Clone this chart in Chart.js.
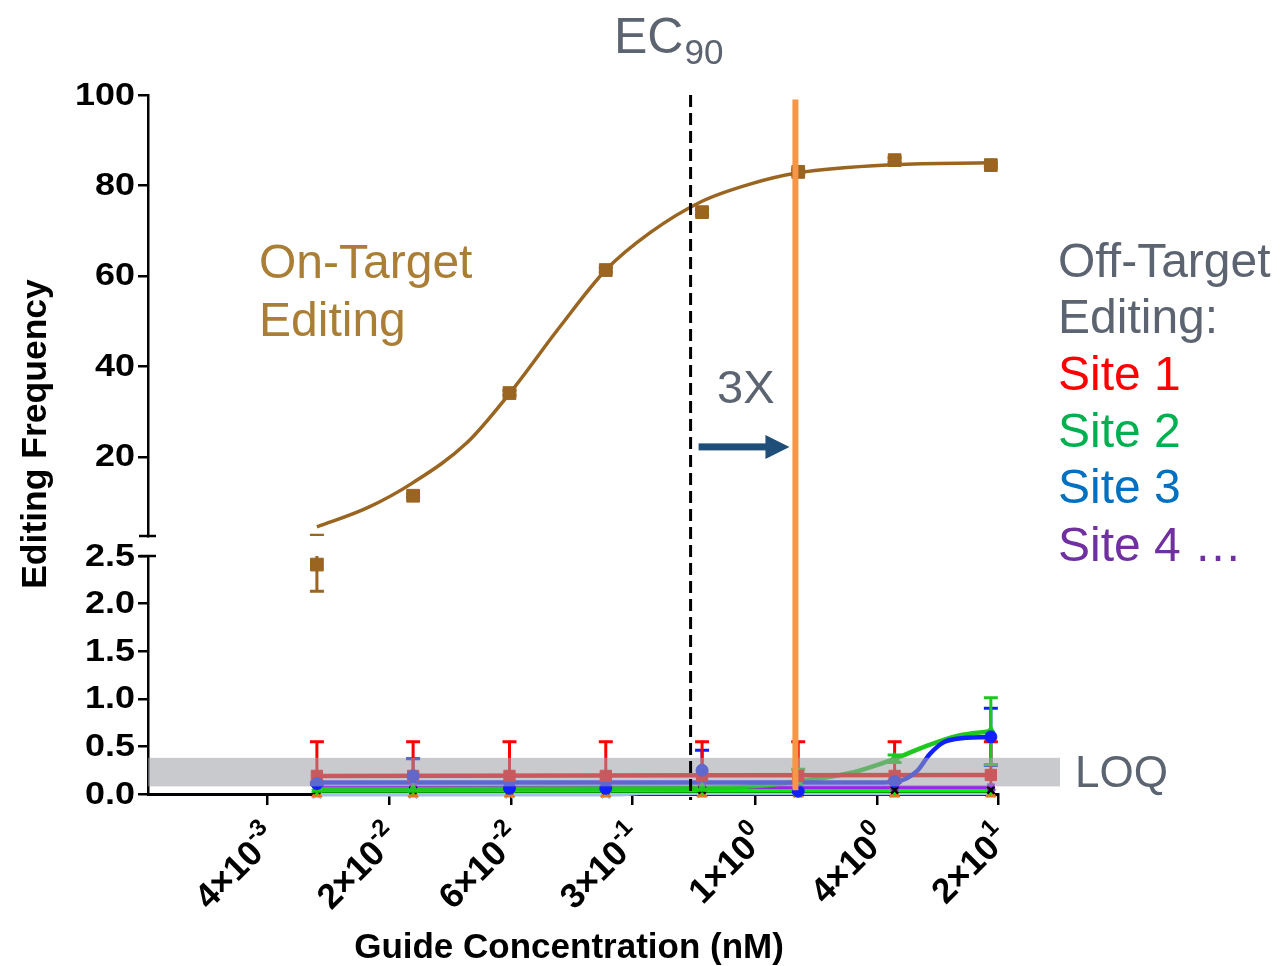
<!DOCTYPE html>
<html>
<head>
<meta charset="utf-8">
<title>Guide concentration vs editing frequency</title>
<script src="https://cdn.jsdelivr.net/npm/chart.js@4.4.0/dist/chart.umd.min.js"></script>
<style>
  html, body { margin: 0; padding: 0; background: #ffffff; }
  #wrap { position: relative; width: 1283px; height: 966px; }
  #wrap canvas { position: absolute; left: 0; top: 0; }
</style>
</head>
<body>
<div id="wrap">
  <canvas id="lowerPanel" width="1283" height="966"></canvas>
  <canvas id="upperPanel" width="1283" height="966"></canvas>
</div>
<script>
// ---- data ----------------------------------------------------------------
// guide concentrations (nM), 3-fold dilution series
const guideConc = [0.00914, 0.0274, 0.0823, 0.247, 0.741, 2.22, 6.67, 20];

// on-target editing (%)
const onTargetMean = [2.41, 11.4, 34.1, 61.3, 74.1, 83.0, 85.6, 84.5];
const onTargetSD   = [0.28, 0.4, 0.5, 0.5, 0.6, 0.4, 0.5, 0.4];
// dose-response fit for on-target editing
const onFitConc  = [0.00914, 0.0162, 0.0274, 0.0506, 0.0823, 0.146, 0.247, 0.408, 0.741, 1.28, 2.22, 6.67, 20];
const onFitValue = [4.5, 8.7, 14.3, 23.1, 34.0, 48.7, 61.3, 69.5, 76.5, 80.3, 82.8, 84.6, 85.0];

// off-target sites (%)
const site1Mean  = [0.19, 0.19, 0.19, 0.19, 0.19, 0.19, 0.19, 0.20];
const site1Upper = [0.55, 0.55, 0.55, 0.55, 0.55, 0.55, 0.55, 0.55];
const site1Lower = [-0.17, -0.17, -0.17, -0.17, -0.17, -0.17, -0.17, -0.15];
const site1FitConc  = [0.00914, 20];
const site1FitValue = [0.19, 0.20];

const site2Mean  = [0.05, 0.05, 0.05, 0.05, 0.06, 0.12, 0.37, 0.66];
const site2Upper = [null, null, null, null, null, 0.26, 0.41, 1.01];
const site2Lower = [null, null, null, null, null, 0.0, 0.33, 0.31];
const site2FitConc  = [0.00914, 0.741, 1.5, 2.34, 4.0, 6.67, 9.2, 13.6, 20];
const site2FitValue = [0.05, 0.06, 0.09, 0.14, 0.22, 0.37, 0.49, 0.61, 0.66];

const site3Mean  = [0.11, 0.19, 0.06, 0.06, 0.25, 0.03, 0.13, 0.60];
const site3Upper = [0.12, 0.37, 0.07, 0.07, 0.46, 0.04, 0.14, 0.90];
const site3Lower = [0.10, 0.05, 0.05, 0.05, 0.04, 0.02, 0.12, 0.30];
const site3FitConc  = [0.00914, 5.5, 6.84, 8.6, 9.97, 11.6, 13.6, 20];
const site3FitValue = [0.12, 0.12, 0.13, 0.24, 0.42, 0.54, 0.58, 0.60];

const site4Mean  = [0.07, 0.07, 0.07, 0.07, 0.07, 0.07, 0.07, 0.07];
const site5Mean  = [0.045, 0.045, 0.045, 0.045, 0.045, 0.045, 0.045, 0.045];
const site6Mean  = [0.025, 0.025, 0.025, 0.025, 0.025, 0.025, 0.025, 0.025];
const site7Mean  = [0.0, 0.0, 0.0, 0.0, 0.012, 0.012, 0.012, 0.012];
const site7FitConc  = [0.00914, 0.28, 0.36, 20];
const site7FitValue = [0.0, 0.0, 0.012, 0.012];
const site8Mean  = [0.04, 0.04, 0.04, 0.04, 0.04, 0.04, 0.04, 0.04];
const site9Mean  = [0.0, 0.0, 0.0, 0.0, 0.0, 0.0, 0.0, 0.0];

// axes
const yTopMin = 2.5, yTopMax = 100;
const yTopTicks = [20, 40, 60, 80, 100];
const yBotMin = 0, yBotMax = 2.5, yBotStep = 0.5;
const xAxisMin = 0.00133, xAxisMax = 21.7;
const xTickValues   = [0.00516, 0.0208, 0.0836, 0.333, 1.355, 5.45, 21.7];
const xTickMantissa = ['4', '2', '6', '3', '1', '4', '2'];
const xTickExponent = ['-3', '-2', '-2', '-1', '0', '0', '1'];

// reference marks
const ec90Conc = 0.65;
const threeXConc = 2.15;
const threeXTop = 99, threeXBottom = 0.04;
const arrowLevel = 22.2;
const loqBand = [0.08, 0.38];

// ---- styling helpers -----------------------------------------------------
const FONT = "'Liberation Sans', Arial, Helvetica, sans-serif";
const GREY_TEXT = '#5b6470';
const BROWN = '#9a6421';

function pts(xs, ys, hi, lo) {
  return xs.map((x, i) => ({ x: x, y: ys[i], hi: hi ? hi[i] : null, lo: lo ? lo[i] : null }));
}

function fitLine(color, conc, values, width) {
  return {
    type: 'line', data: pts(conc, values), borderColor: color, borderWidth: width || 4,
    pointRadius: 0, fill: false, cubicInterpolationMode: 'monotone', clip: false
  };
}

function markers(color, style, radius, values, hi, lo) {
  return {
    type: 'line', showLine: false, data: pts(guideConc, values, hi, lo),
    borderColor: color, backgroundColor: color, errColor: color,
    pointStyle: style, pointRadius: radius, pointBorderWidth: style === 'crossRot' ? 2.5 : 1,
    pointBorderColor: color, pointBackgroundColor: color, clip: false
  };
}

// vertical error bars with caps, kept inside the plot area
const errorBars = {
  id: 'errorBars',
  beforeDatasetsDraw(chart) {
    const { ctx, chartArea: a } = chart;
    const xs = chart.scales.x, ys = chart.scales.y;
    ctx.save();
    ctx.beginPath();
    ctx.rect(a.left - 20, a.top, a.right - a.left + 40, a.bottom - a.top);
    ctx.clip();
    chart.data.datasets.forEach(ds => {
      if (!ds.errColor) return;
      ctx.strokeStyle = ds.errColor;
      ctx.lineWidth = 3;
      ds.data.forEach(p => {
        if (p.hi == null) return;
        const px = xs.getPixelForValue(p.x);
        const yu = ys.getPixelForValue(p.hi);
        const yl = ys.getPixelForValue(p.lo);
        ctx.beginPath();
        ctx.moveTo(px, yu); ctx.lineTo(px, yl);
        ctx.moveTo(px - 7, yu); ctx.lineTo(px + 7, yu);
        ctx.moveTo(px - 7, yl); ctx.lineTo(px + 7, yl);
        ctx.stroke();
      });
    });
    ctx.restore();
  }
};

// short cross-bar marking the y-axis break
function breakCap(atTop) {
  return {
    id: 'breakCap',
    afterDraw(chart) {
      const { ctx, chartArea: a } = chart;
      const y = atTop ? a.top : a.bottom;
      ctx.save();
      ctx.strokeStyle = '#000'; ctx.lineWidth = 2.5;
      ctx.beginPath(); ctx.moveTo(a.left - 9, y); ctx.lineTo(a.left + 8, y); ctx.stroke();
      ctx.restore();
    }
  };
}

// y tick labels: wide bold numerals, right-aligned against the tick marks
function yTickText(format) {
  return {
    id: 'yTickText',
    afterDraw(chart) {
      const { ctx } = chart;
      const ys = chart.scales.y;
      const right = chart.chartArea.left - 13;
      ctx.save();
      ctx.fillStyle = '#000';
      ctx.font = 'bold 31px ' + FONT;
      ctx.textAlign = 'right';
      ctx.textBaseline = 'middle';
      ys.ticks.forEach(t => {
        const py = ys.getPixelForValue(t.value) + 1;
        ctx.save();
        ctx.translate(right, py);
        ctx.scale(1.16, 1);
        ctx.fillText(format(t.value), 0, 0);
        ctx.restore();
      });
      ctx.restore();
    }
  };
}

// semi-transparent LOQ band laid over the low-level traces
const loqShade = {
  id: 'loqShade',
  afterDatasetsDraw(chart) {
    const { ctx, chartArea: a } = chart;
    const ys = chart.scales.y;
    const y1 = ys.getPixelForValue(loqBand[1]), y0 = ys.getPixelForValue(loqBand[0]);
    ctx.save();
    ctx.fillStyle = 'rgba(157,161,166,0.56)';
    ctx.fillRect(a.left, y1, 1060 - a.left, y0 - y1);
    ctx.restore();
  }
};

// rotated x tick labels of the form m×10^e
const xTickText = {
  id: 'xTickText',
  afterDraw(chart) {
    const { ctx } = chart;
    const xs = chart.scales.x;
    const yBase = chart.chartArea.bottom;
    ctx.save();
    ctx.fillStyle = '#000';
    xTickValues.forEach((v, i) => {
      const px = xs.getPixelForValue(v);
      const main = xTickMantissa[i] + '\u00d710';
      const exp = xTickExponent[i];
      ctx.save();
      ctx.translate(px + 13, yBase + 46);
      ctx.rotate(-Math.PI / 4);
      ctx.font = 'bold 24px ' + FONT;
      const we = ctx.measureText(exp).width;
      ctx.font = 'bold 35px ' + FONT;
      const wm = ctx.measureText(main).width;
      ctx.textBaseline = 'alphabetic';
      ctx.textAlign = 'left';
      ctx.fillText(main, -(wm + we), 0);
      ctx.font = 'bold 24px ' + FONT;
      ctx.fillText(exp, -we, -16);
      ctx.restore();
    });
    ctx.font = 'bold 35px ' + FONT;
    ctx.textAlign = 'center';
    ctx.textBaseline = 'alphabetic';
    ctx.fillText('Guide Concentration (nM)', 569, 958);
    ctx.restore();
  }
};

function yScale(min, max, extra) {
  return Object.assign({
    min: min, max: max,
    afterFit(s) { s.width = 148; },
    border: { display: true, color: '#000', width: 2.5 },
    grid: { display: true, drawOnChartArea: false, drawTicks: true, tickLength: 10, color: '#000', lineWidth: 2.5 },
    ticks: { display: false }
  }, extra);
}

// ---- lower panel: 0 – 2.5 % ------------------------------------------------
const onLow = guideConc.map((x, i) => ({ x: x, y: onTargetMean[i], hi: onTargetMean[i] + onTargetSD[i], lo: onTargetMean[i] - onTargetSD[i] }))
  .filter(p => p.y <= yBotMax);

const lowerChart = new Chart(document.getElementById('lowerPanel'), {
  type: 'line',
  data: {
    datasets: [
      { type: 'line', showLine: false, data: onLow, errColor: BROWN, pointStyle: 'rect', pointRadius: 9,
        pointBackgroundColor: BROWN, pointBorderColor: BROWN, clip: false },
      markers('#1020ff', 'circle', 6, site3Mean, site3Upper, site3Lower),
      markers('#ff0000', 'rect', 8, site1Mean, site1Upper, site1Lower),
      markers('#1ec81e', 'triangle', 6, site2Mean, site2Upper, site2Lower),
      markers('#000000', 'crossRot', 5, site8Mean),
      markers('#a020f0', 'rect', 5, site4Mean),
      markers('#00ee00', 'rectRot', 5, site5Mean),
      markers('#e07b20', 'triangle', 6, site9Mean),
      markers('#9dc3ee', 'crossRot', 6, site7Mean),
      fitLine('#1020ff', site3FitConc, site3FitValue, 4.5),
      fitLine('#ff0000', site1FitConc, site1FitValue, 4.5),
      fitLine('#1ec81e', site2FitConc, site2FitValue, 4.5),
      fitLine('#a020f0', [guideConc[0], guideConc[7]], [site4Mean[0], site4Mean[7]], 3.5),
      fitLine('#00ee00', [guideConc[0], guideConc[7]], [site5Mean[0], site5Mean[7]], 4.5),
      fitLine('#009a00', [guideConc[0], guideConc[7]], [site6Mean[0], site6Mean[7]], 3),
      fitLine('#9dc3ee', site7FitConc, site7FitValue, 5)
    ]
  },
  options: {
    responsive: false, animation: false, devicePixelRatio: 1,
    layout: { padding: { top: 556, bottom: 0, left: 0, right: 285 } },
    plugins: { legend: { display: false }, tooltip: { enabled: false } },
    scales: {
      x: {
        type: 'logarithmic', min: xAxisMin, max: xAxisMax,
        afterFit(s) { s.height = 172; },
        afterBuildTicks(s) { s.ticks = xTickValues.map(v => ({ value: v })); },
        border: { display: true, color: '#000', width: 3 },
        grid: { display: true, drawOnChartArea: false, drawTicks: true, tickLength: 11, color: '#000', lineWidth: 2.5 },
        ticks: { display: false }
      },
      y: yScale(yBotMin, yBotMax, {
        ticks: { display: false, stepSize: yBotStep }
      })
    }
  },
  plugins: [errorBars, loqShade, breakCap(true), xTickText, yTickText(v => v.toFixed(1))]
});

// ---- upper panel: 2.5 – 100 % ----------------------------------------------
const onHigh = guideConc.map((x, i) => ({ x: x, y: onTargetMean[i], hi: onTargetMean[i] + onTargetSD[i], lo: onTargetMean[i] - onTargetSD[i] }));
const onHighMarks = onHigh.filter(p => p.y >= yTopMin);
const onHighBars = onHigh.filter(p => p.hi >= yTopMin);

const annotations = {
  id: 'annotations',
  afterDraw(chart) {
    const { ctx } = chart;
    const xs = chart.scales.x, ys = chart.scales.y;
    const lowY = lowerChart.scales.y;

    // EC90 marker
    const xe = xs.getPixelForValue(ec90Conc);
    ctx.save();
    ctx.strokeStyle = '#000'; ctx.lineWidth = 3; ctx.setLineDash([12, 6]);
    ctx.beginPath(); ctx.moveTo(xe, ys.getPixelForValue(yTopMax)); ctx.lineTo(xe, lowY.getPixelForValue(0) + 6); ctx.stroke();
    ctx.restore();

    // 3× EC90 marker
    const x3 = xs.getPixelForValue(threeXConc);
    ctx.save();
    ctx.strokeStyle = '#f79646'; ctx.lineWidth = 6;
    ctx.beginPath(); ctx.moveTo(x3, ys.getPixelForValue(threeXTop)); ctx.lineTo(x3, lowY.getPixelForValue(threeXBottom)); ctx.stroke();
    ctx.restore();

    // arrow between the two
    const ya = ys.getPixelForValue(arrowLevel);
    const ax0 = xe + 8, ax1 = x3 - 6;
    ctx.save();
    ctx.fillStyle = '#1f4e79';
    ctx.fillRect(ax0, ya - 3.5, ax1 - 22 - ax0, 7);
    ctx.beginPath();
    ctx.moveTo(ax1 - 24, ya - 12); ctx.lineTo(ax1, ya); ctx.lineTo(ax1 - 24, ya + 12); ctx.closePath(); ctx.fill();
    ctx.restore();

    ctx.save();
    ctx.textBaseline = 'alphabetic';
    ctx.textAlign = 'left';
    // EC90 heading
    ctx.fillStyle = GREY_TEXT;
    ctx.font = '50px ' + FONT;
    ctx.fillText('EC', 614, 53);
    const wEC = ctx.measureText('EC').width;
    ctx.font = '35px ' + FONT;
    ctx.fillText('90', 614 + wEC + 1, 64);

    ctx.font = '47px ' + FONT;
    ctx.fillText('3X', 717, 403);
    ctx.font = '44px ' + FONT;
    ctx.fillText('LOQ', 1075, 787);

    // on-target label
    ctx.fillStyle = '#ab7e35';
    ctx.font = '48px ' + FONT;
    ctx.fillText('On-Target', 259, 278);
    ctx.fillText('Editing', 259, 336);

    // off-target key
    const key = [
      ['Off-Target', GREY_TEXT, 277], ['Editing:', GREY_TEXT, 333],
      ['Site 1', '#ff0000', 390], ['Site 2', '#00b050', 447],
      ['Site 3', '#0070c0', 503], ['Site 4 \u2026', '#7030a0', 561]
    ];
    key.forEach(([t, c, y]) => { ctx.fillStyle = c; ctx.fillText(t, 1058, y); });

    // y-axis title spanning both panels
    ctx.fillStyle = '#000';
    ctx.font = 'bold 35.5px ' + FONT;
    ctx.translate(46, 434);
    ctx.rotate(-Math.PI / 2);
    ctx.textAlign = 'center';
    ctx.fillText('Editing Frequency', 0, 0);
    ctx.restore();
  }
};

const upperChart = new Chart(document.getElementById('upperPanel'), {
  type: 'line',
  data: {
    datasets: [
      { type: 'line', showLine: false, data: onHighMarks, pointStyle: 'rect', pointRadius: 9,
        pointBackgroundColor: BROWN, pointBorderColor: BROWN },
      { type: 'line', showLine: false, data: onHighBars, errColor: BROWN, pointRadius: 0 },
      { type: 'line', data: pts(onFitConc, onFitValue), borderColor: BROWN, borderWidth: 3.5,
        pointRadius: 0, fill: false, cubicInterpolationMode: 'monotone' }
    ]
  },
  options: {
    responsive: false, animation: false, devicePixelRatio: 1,
    layout: { padding: { top: 95, bottom: 430, left: 0, right: 285 } },
    plugins: { legend: { display: false }, tooltip: { enabled: false } },
    scales: {
      x: { type: 'logarithmic', min: xAxisMin, max: xAxisMax, display: false },
      y: yScale(yTopMin, yTopMax, {
        afterBuildTicks(s) { s.ticks = yTopTicks.map(v => ({ value: v })); }
      })
    }
  },
  plugins: [errorBars, breakCap(false), yTickText(v => String(v)), annotations]
});
</script>
</body>
</html>
